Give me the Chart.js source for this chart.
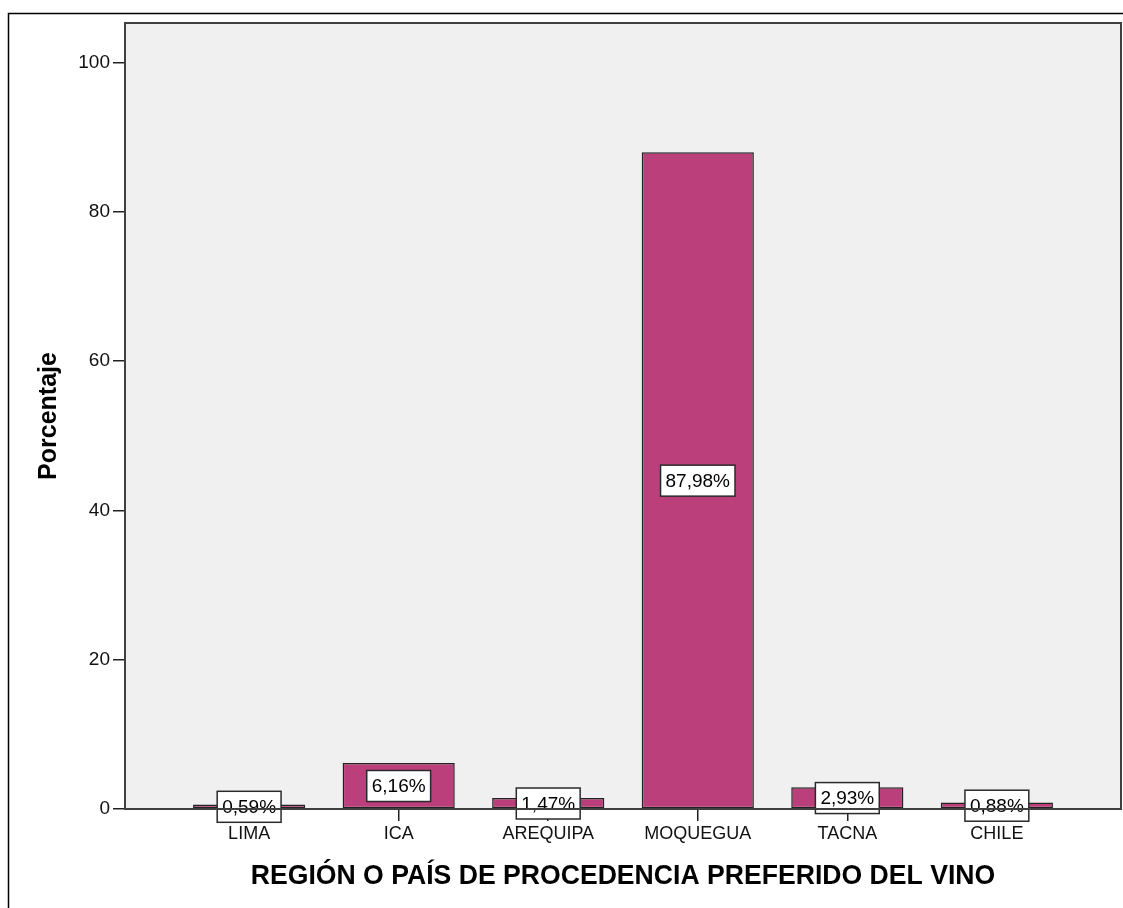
<!DOCTYPE html>
<html>
<head>
<meta charset="utf-8">
<script src="https://cdn.jsdelivr.net/npm/chart.js@4/dist/chart.umd.min.js"></script>
<style>
  html, body { margin: 0; padding: 0; background: #fff; }
  #wrap { width: 1123px; height: 908px; position: relative; }
</style>
</head>
<body>
<div id="wrap"><canvas id="chart"></canvas></div>
<script>
// Preferred wine origin (percentage of respondents)
const categories = ['LIMA', 'ICA', 'AREQUIPA', 'MOQUEGUA', 'TACNA', 'CHILE'];
const percentages = [0.59, 6.16, 1.47, 87.98, 2.93, 0.88];
const yTicks = [0, 20, 40, 60, 80, 100];
const xTitle = 'REGIÓN O PAÍS DE PROCEDENCIA PREFERIDO DEL VINO';
const yTitle = 'Porcentaje';

const FONT = '"Liberation Sans", Arial, Helvetica, sans-serif';
const BAR_COLOR = '#BB3F7B';

const fmt = v => v.toFixed(2).replace('.', ',') + '%';

// Frame, plot background and axis titles
const framePlugin = {
  id: 'frame',
  beforeDraw(chart) {
    const { ctx, chartArea: a } = chart;
    ctx.save();
    ctx.fillStyle = '#F0F0F0';
    ctx.fillRect(a.left, a.top, a.right - a.left, a.bottom - a.top);
    ctx.restore();
  },
  afterDraw(chart) {
    const { ctx, chartArea: a, width, height } = chart;
    ctx.save();
    // outer frame (top and left edges)
    ctx.strokeStyle = '#000';
    ctx.lineWidth = 1.5;
    ctx.beginPath();
    ctx.moveTo(width, 13.5);
    ctx.lineTo(8.5, 13.5);
    ctx.lineTo(8.5, height);
    ctx.stroke();
    // plot border
    ctx.strokeStyle = '#404040';
    ctx.lineWidth = 2;
    ctx.strokeRect(a.left, a.top, a.right - a.left, a.bottom - a.top);
    // axis titles
    ctx.fillStyle = '#000';
    ctx.textAlign = 'center';
    ctx.textBaseline = 'middle';
    ctx.save();
    ctx.translate((a.left + a.right) / 2, 876);
    ctx.scale(0.95, 1);
    ctx.font = 'bold 28px ' + FONT;
    ctx.fillText(xTitle, 0, 0);
    ctx.restore();
    ctx.translate(49, (a.top + a.bottom) / 2);
    ctx.rotate(-Math.PI / 2);
    ctx.font = 'bold 25px ' + FONT;
    ctx.fillText(yTitle, 0, 0);
    ctx.restore();
  }
};

// Boxed value labels centred at half the bar height
const valueLabels = {
  id: 'valueLabels',
  afterDatasetsDraw(chart) {
    const { ctx } = chart;
    const yScale = chart.scales.y;
    const meta = chart.getDatasetMeta(0);
    ctx.save();
    ctx.font = '19px ' + FONT;
    ctx.textAlign = 'center';
    ctx.textBaseline = 'middle';
    meta.data.forEach((bar, i) => {
      const v = percentages[i];
      const text = fmt(v);
      const cx = bar.x;
      const cy = yScale.getPixelForValue(v / 2);
      const w = ctx.measureText(text).width + 10;
      const h = 31;
      ctx.fillStyle = '#fff';
      ctx.fillRect(cx - w / 2, cy - h / 2, w, h);
      ctx.strokeStyle = '#2a2a2a';
      ctx.lineWidth = 1.5;
      ctx.strokeRect(cx - w / 2, cy - h / 2, w, h);
      ctx.fillStyle = '#000';
      ctx.fillText(text, cx, cy + 1);
    });
    ctx.restore();
  }
};

new Chart(document.getElementById('chart'), {
  type: 'bar',
  data: {
    datasets: [{
      data: categories.map((c, i) => ({ x: i + 1, y: percentages[i] })),
      backgroundColor: BAR_COLOR,
      borderColor: '#222',
      borderWidth: 1.5,
      borderSkipped: false,
      barPercentage: 0.75,
      categoryPercentage: 1
    }]
  },
  options: {
    responsive: true,
    maintainAspectRatio: false,
    animation: false,
    layout: { padding: { top: 23, right: 2, left: 0, bottom: 0 } },
    plugins: { legend: { display: false }, tooltip: { enabled: false } },
    scales: {
      x: {
        type: 'linear',
        min: 0.17,
        max: 6.83,
        offset: false,
        afterBuildTicks: s => { s.ticks = categories.map((c, i) => ({ value: i + 1 })); },
        afterFit: s => { s.height = 99; },
        border: { display: false },
        grid: { offset: false, drawOnChartArea: false, drawTicks: true, tickLength: 12, color: '#222', lineWidth: 1.5 },
        ticks: {
          autoSkip: false,
          maxRotation: 0,
          padding: 2,
          color: '#111',
          font: { family: FONT, size: 18 },
          callback: v => categories[Math.round(v) - 1] || ''
        }
      },
      y: {
        min: 0,
        max: 105.3,
        afterBuildTicks: s => { s.ticks = yTicks.map(v => ({ value: v })); },
        afterFit: s => { s.width = 125; },
        border: { display: false },
        grid: { drawOnChartArea: false, drawTicks: true, tickLength: 12, color: '#222', lineWidth: 1.5 },
        ticks: {
          padding: 3,
          color: '#111',
          font: { family: FONT, size: 19 }
        }
      }
    }
  },
  plugins: [framePlugin, valueLabels]
});
</script>
</body>
</html>
